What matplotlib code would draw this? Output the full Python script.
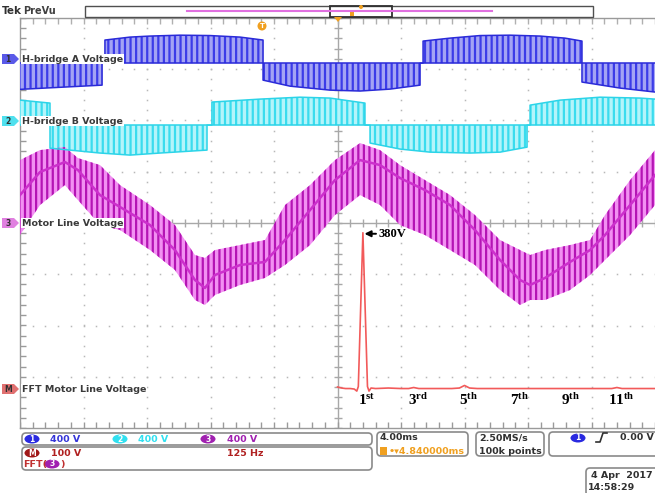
import numpy as np
import matplotlib.pyplot as plt
from matplotlib.patches import FancyBboxPatch, Polygon, Rectangle, Ellipse

plt.rcParams['hatch.linewidth'] = 1.6
plt.rcParams['mathtext.fontset'] = 'custom'
plt.rcParams['mathtext.bf'] = 'Liberation Serif:bold'
plt.rcParams['mathtext.rm'] = 'Liberation Serif:bold'

# scope settings
ms_per_div = 4.0
hz_per_div = 125.0
ch_scale = 400.0      # V/div for channels 1-3
fft_scale = 100.0     # V/div for math (FFT)

# vertical offsets of each trace, in divisions
a_offset = 3.12
b_offset = 1.91
line_offset = 0.0
fft_offset = -3.24

# channel 1: H-bridge A voltage envelope (ms, V)
a_time = [0.0, 5.17, 5.17, 5.35, 5.35, 6.93, 8.19, 10.08, 11.97, 13.86, 15.31, 15.31,
          17.01, 19.53, 21.42, 23.31, 25.2, 25.2, 25.39, 25.39, 27.09, 28.98, 30.87,
          32.76, 34.33, 35.4, 35.4, 37.8, 40.0]
a_volt = [-205, -172, 0, 0, 180, 203, 211, 218, 215, 203, 180, -133,
          -180, -211, -218, -203, -172, 0, 0, 172, 195, 215, 218,
          211, 195, 172, -148, -195, -226]

# channel 2: H-bridge B voltage envelope (ms, V)
b_time = [0.0, 1.89, 1.89, 5.04, 6.93, 8.82, 11.78, 11.78, 12.09, 12.09, 15.12, 17.64,
          19.53, 21.73, 21.73, 22.05, 22.05, 23.94, 25.83, 28.35, 30.24, 31.94, 31.94,
          32.13, 32.13, 34.02, 36.54, 39.06, 40.0]
b_volt = [195, 172, -180, -218, -234, -218, -195, 0, 0, 180, 203, 218,
          211, 172, 0, 0, -140, -187, -211, -218, -211, -172, 0,
          0, 156, 195, 218, 211, 203]

# channel 3: motor line voltage, PWM band and its mean (ms, V)
m_time = [0.0, 1.26, 2.83, 3.65, 5.04, 6.30, 8.19, 9.76, 11.02, 11.65, 12.28, 13.86,
          15.43, 16.69, 18.27, 19.84, 21.42, 22.68, 23.94, 25.51, 27.09, 28.66, 30.24,
          31.5, 32.13, 33.07, 34.65, 35.91, 36.85, 38.43, 40.0]
m_mid = [218, 398, 476, 413, 218, 125, -16, -211, -445, -507, -406, -328,
         -304, -133, 101, 335, 491, 452, 351, 257, 140, -55, -289,
         -445, -484, -429, -304, -211, -94, 140, 374]
m_high = [491, 569, 593, 507, 452, 296, 140, -16, -250, -273, -211, -172,
          -133, 140, 296, 491, 624, 569, 452, 335, 218, 62, -133,
          -211, -250, -211, -172, -133, 62, 335, 569]
m_low = [-94, 140, 296, 179, -16, -55, -211, -367, -601, -640, -562, -484,
         -429, -328, -172, 62, 218, 140, -16, -94, -211, -328, -523,
         -640, -601, -601, -523, -406, -289, -94, 140]

# math: FFT of motor line voltage (Hz, V)
fft_freq = [0, 8, 16, 25, 33, 38, 41, 50, 59, 62, 66, 75, 100, 125, 140, 150, 160,
            175, 200, 225, 240, 250, 260, 275, 300, 350, 400, 450, 500, 540, 550,
            560, 600, 625]
fft_mag = [4, 2, 1, 1, 0, -4, 5, 305, 5, -4, 2, 1, 2, 1, 1, 3, 1,
           1, 1, 1, 2, 7, 2, 1, 1, 1, 1, 1, 1, 1, 3,
           1, 1, 1]

harmonics = [1, 3, 5, 7, 9, 11]
suffixes = ['st', 'rd', 'th', 'th', 'th', 'th']
fundamental = 50.0

fig = plt.figure(figsize=(6.55, 4.93), dpi=100, facecolor='white')
ax = fig.add_axes([20 / 655, 65 / 493, 635 / 655, 410 / 493])
ax.set_xlim(0, 40)
ax.set_ylim(-4, 4)
ax.set_xticks([])
ax.set_yticks([])
for side in ['left', 'top', 'bottom']:
    ax.spines[side].set_color('#9a9a9a')
    ax.spines[side].set_linewidth(1.0)
ax.spines['right'].set_visible(False)

# graticule
grid_c = '#b8b8b8'
minor_x = np.arange(0, 40.01, 0.8)
minor_y = np.arange(-4, 4.01, 0.2)
for xv in np.arange(4, 40, 4):
    if xv == 20:
        continue
    ax.plot(np.full_like(minor_y, xv), minor_y, ls='none', marker='s', ms=1.1,
            mew=0, color=grid_c, zorder=1)
for yv in [-3, -2, -1, 1, 2, 3]:
    ax.plot(minor_x, np.full_like(minor_x, yv), ls='none', marker='s', ms=1.1,
            mew=0, color=grid_c, zorder=1)
ax.axhline(0, color='#a8a8a8', lw=1.0, zorder=1)
ax.axvline(20, color='#a8a8a8', lw=1.0, zorder=1)
ax.plot(minor_x, np.zeros_like(minor_x), ls='none', marker='|', ms=6, color='#a8a8a8', zorder=1)
ax.plot(np.full_like(minor_y, 20), minor_y, ls='none', marker='_', ms=6, color='#a8a8a8', zorder=1)
ax.plot(np.zeros_like(minor_y), minor_y, ls='none', marker='_', ms=9, color='#9a9a9a', zorder=1)
ax.plot(minor_x, np.full_like(minor_x, 4), ls='none', marker='|', ms=9, color='#b0b0b0', zorder=1)
ax.plot(minor_x, np.full_like(minor_x, -4), ls='none', marker='|', ms=9, color='#9a9a9a', zorder=1)


def draw_pwm(t, v, offset, face, stripe, edge):
    y = offset + np.asarray(v) / ch_scale
    ax.fill_between(t, offset, y, facecolor=face, edgecolor=stripe, hatch='|||',
                    linewidth=0, zorder=3)
    ax.plot(t, y, color=edge, lw=1.1, zorder=4)
    ax.plot([0, 40], [offset, offset], color=edge, lw=1.1, zorder=4)


draw_pwm(a_time, a_volt, a_offset, '#a4a4f4', '#3c3ce8', '#2a2ad8')
draw_pwm(b_time, b_volt, b_offset, '#b4f4fa', '#3adcee', '#2cd4e8')

m_t = np.asarray(m_time)
ax.fill_between(m_t, line_offset + np.asarray(m_low) / ch_scale,
                line_offset + np.asarray(m_high) / ch_scale,
                facecolor='#f290f2', edgecolor='#b414b4', hatch='|||',
                linewidth=0, zorder=3)
ax.plot(m_t, line_offset + np.asarray(m_mid) / ch_scale, color='#cc30cc', lw=1.8, zorder=4)

fft_t = 20 + np.asarray(fft_freq) / hz_per_div * ms_per_div
fft_y = fft_offset + np.asarray(fft_mag) / fft_scale
ax.plot(fft_t, fft_y, color='#f25a5a', lw=1.2, zorder=5)

peak = int(np.argmax(fft_mag))
ax.annotate('380V', xy=(fft_t[peak] + 0.1, fft_y[peak] - 0.02),
            xytext=(fft_t[peak] + 1.0, fft_y[peak] - 0.02),
            fontsize=9, fontfamily='Liberation Serif', fontweight='bold', va='center',
            ha='left', arrowprops=dict(arrowstyle='-|>', color='black', lw=1.4,
                                       mutation_scale=9, shrinkA=0, shrinkB=0), zorder=6)

for h, s in zip(harmonics, suffixes):
    th = 20 + h * fundamental / hz_per_div * ms_per_div
    ax.annotate(r'$\mathbf{%d^{%s}}$' % (h, s), xy=(th, fft_offset), xytext=(3, -8),
                textcoords='offset points', ha='center', va='center', fontsize=11, zorder=6)

# trace labels
lab = dict(fontsize=6.8, fontweight='bold', color='#3a3a3a', ha='left', va='center',
           zorder=7, bbox=dict(fc='white', ec='none', pad=0.6))
ax.text(0.13, 3.2, 'H-bridge A Voltage', **lab)
ax.text(0.13, 1.99, 'H-bridge B Voltage', **lab)
ax.text(0.13, 0.0, 'Motor Line Voltage', **lab)
ax.text(0.13, -3.24, 'FFT Motor Line Voltage', **lab)

# overlay in pixel coordinates for the scope decorations
ov = fig.add_axes([0, 0, 1, 1], facecolor='none')
ov.set_xlim(0, 655)
ov.set_ylim(493, 0)
ov.axis('off')


def tab(y, s, color):
    ov.add_patch(Polygon([(2, y - 5), (14, y - 5), (19, y), (14, y + 5), (2, y + 5)],
                         closed=True, fc=color, ec='none'))
    ov.text(8, y, s, fontsize=5.5, fontweight='bold', color='#303030', ha='center', va='center')


tab(59, '1', '#5a5ae8')
tab(121, '2', '#50e0ee')
tab(223, '3', '#e080e0')
tab(389, 'M', '#e07070')


def box(x0, y0, x1, y1):
    ov.add_patch(FancyBboxPatch((x0, y0), x1 - x0, y1 - y0,
                                boxstyle='round,pad=0,rounding_size=4',
                                fc='white', ec='#8a8a8a', lw=1.2))


def badge(x, y, s, color):
    ov.add_patch(Ellipse((x, y), 15, 9, fc=color, ec='none'))
    ov.text(x, y, s, color='white', ha='center', va='center', fontsize=5.5, fontweight='bold')


st = dict(fontsize=6.8, fontweight='bold', ha='left', va='center')

# top bar
ov.text(2, 11, 'Tek', fontsize=7.5, fontweight='bold', color='#303030', va='center')
ov.text(23, 11, 'PreVu', fontsize=7, fontweight='bold', color='#404040', va='center')
ov.add_patch(Rectangle((85, 6), 508, 11, fc='white', ec='#505050', lw=1.0))
ov.plot([187, 492], [11, 11], color='#e070e0', lw=1.5)
ov.add_patch(Rectangle((330, 6), 62, 11, fc='none', ec='#303030', lw=1.3))
ov.add_patch(Rectangle((350, 10), 4, 6, fc='#f0a020', ec='none'))
ov.add_patch(Ellipse((361, 7), 4, 4, fc='#f0a020', ec='none'))
ov.add_patch(Polygon([(334, 17), (342, 17), (338, 22)], closed=True, fc='#f0a020', ec='none'))
ov.add_patch(Ellipse((262, 26), 9, 9, fc='#f0a020', ec='none'))
ov.text(262, 26, 'T', fontsize=5, fontweight='bold', color='white', ha='center', va='center')

# bottom status
box(22, 433, 372, 445)
box(22, 447, 372, 470)
box(377, 432, 468, 456)
box(476, 432, 544, 456)
box(549, 432, 660, 456)
box(586, 468, 660, 496)

badge(32, 439, '1', '#2a2ae0')
ov.text(50, 439, '400 V', color='#3434d8', **st)
badge(120, 439, '2', '#30e0f0')
ov.text(138, 439, '400 V', color='#30e0f0', **st)
badge(208, 439, '3', '#a020b0')
ov.text(227, 439, '400 V', color='#a020b0', **st)
badge(32, 453, 'M', '#a01818')
ov.text(51, 453, '100 V', color='#b02020', **st)
ov.text(227, 453, '125 Hz', color='#b02020', **st)
ov.text(23, 464, 'FFT(', color='#c03030', **st)
badge(52, 464, '3', '#a020b0')
ov.text(60, 464, ')', color='#c03030', **st)

ov.text(380, 438, '4.00ms', color='#303030', **st)
ov.add_patch(Rectangle((380, 447), 7, 8, fc='#f0a020', ec='none'))
ov.text(389, 451, '\u2022\u25be4.840000ms', color='#f0a020', **st)
ov.text(479, 438, '2.50MS/s', color='#303030', **st)
ov.text(479, 451, '100k points', color='#303030', **st)
badge(578, 438, '1', '#2a2ae0')
ov.plot([596, 600, 603, 607], [442, 442, 433, 433], color='#303030', lw=1.2)
ov.text(620, 438, '0.00 V', color='#303030', **st)
ov.text(591, 475, '4 Apr  2017', color='#303030', **st)
ov.text(588, 487, '14:58:29', color='#303030', **st)

fig.savefig('out.png', dpi=100, facecolor='white')
